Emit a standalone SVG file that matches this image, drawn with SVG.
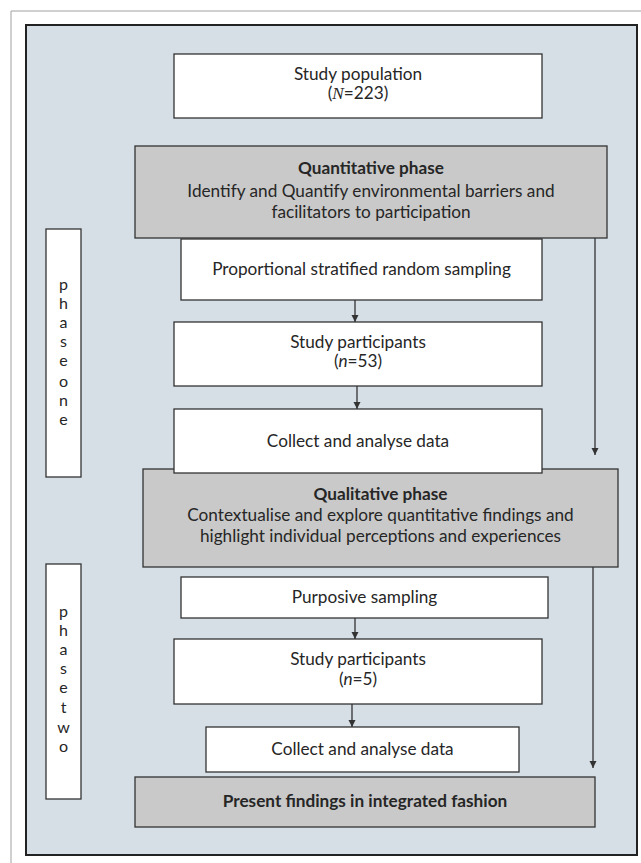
<svg xmlns="http://www.w3.org/2000/svg" width="641" height="863" viewBox="0 0 641 863">
<defs>
<style>
.t{font-family:Lato,"Open Sans","Liberation Sans",sans-serif;font-size:17.2px;fill:#262626;text-anchor:middle}
.b{font-weight:bold}
.w{fill:#ffffff;stroke:#333333;stroke-width:1.3}
.g{fill:#c9c9c9;stroke:#333333;stroke-width:1.3}
.c{stroke:#333333;stroke-width:1.3;fill:none}
.v{font-family:Lato,"Open Sans","Liberation Sans",sans-serif;font-size:16px;fill:#262626;text-anchor:middle}
</style>
<marker id="ah" markerWidth="8" markerHeight="8" refX="7" refY="4" orient="auto" markerUnits="userSpaceOnUse">
<path d="M0,0.5 L7,4 L0,7.5 Z" fill="#333333"/>
</marker>
</defs>
<rect width="641" height="863" fill="#ffffff"/>
<path d="M11,863 V11 H641" fill="none" stroke="#a0a0a0" stroke-width="1"/>
<rect id="frame" x="26" y="25" width="611" height="830" fill="#d6dee6" stroke="#222222" stroke-width="2"/>

<g id="phase-one">
<rect class="w" x="46" y="229" width="35" height="248"/>
<text class="v"><tspan x="63.5" y="290">p</tspan><tspan x="63.5" y="309">h</tspan><tspan x="63.5" y="328">a</tspan><tspan x="63.5" y="347">s</tspan><tspan x="63.5" y="366">e</tspan><tspan x="63.5" y="387">o</tspan><tspan x="63.5" y="406">n</tspan><tspan x="63.5" y="425">e</tspan></text>
</g>
<g id="phase-two">
<rect class="w" x="46" y="564" width="35" height="235"/>
<text class="v"><tspan x="63.5" y="617">p</tspan><tspan x="63.5" y="636">h</tspan><tspan x="63.5" y="655">a</tspan><tspan x="63.5" y="674">s</tspan><tspan x="63.5" y="693">e</tspan><tspan x="63.5" y="713">t</tspan><tspan x="63.5" y="733">w</tspan><tspan x="63.5" y="752">o</tspan></text>
</g>

<g id="study-population">
<rect class="w" x="174" y="54" width="368" height="64"/>
<text class="t" x="358" y="80">Study population</text>
<text class="t" x="358" y="99">(<tspan font-family="'Liberation Serif',serif" font-style="italic">N</tspan>=223)</text>
</g>

<g id="quantitative-phase">
<rect class="g" x="135" y="146" width="472" height="92"/>
<text class="t b" x="371" y="174">Quantitative phase</text>
<text class="t" x="371" y="197">Identify and Quantify environmental barriers and</text>
<text class="t" x="371" y="218">facilitators to participation</text>
</g>

<g id="proportional-sampling">
<rect class="w" x="181" y="239" width="361" height="61"/>
<text class="t" x="361.5" y="275">Proportional stratified random sampling</text>
</g>

<g id="participants-53">
<rect class="w" x="174" y="322" width="368" height="64"/>
<text class="t" x="358" y="348">Study participants</text>
<text class="t" x="358" y="367">(<tspan font-style="italic">n</tspan>=53)</text>
</g>

<g id="qualitative-phase">
<rect class="g" x="143" y="469" width="475" height="98"/>
<text class="t b" x="380.5" y="500">Qualitative phase</text>
<text class="t" x="380.5" y="521">Contextualise and explore quantitative findings and</text>
<text class="t" x="380.5" y="542">highlight individual perceptions and experiences</text>
</g>

<g id="collect-1">
<rect class="w" x="174" y="409" width="368" height="64"/>
<text class="t" x="358" y="447">Collect and analyse data</text>
</g>

<g id="purposive-sampling">
<rect class="w" x="181" y="577" width="367" height="41"/>
<text class="t" x="364.5" y="603">Purposive sampling</text>
</g>

<g id="participants-5">
<rect class="w" x="174" y="639" width="368" height="65"/>
<text class="t" x="358" y="665">Study participants</text>
<text class="t" x="358" y="685">(<tspan font-style="italic">n</tspan>=5)</text>
</g>

<g id="collect-2">
<rect class="w" x="206" y="727" width="313" height="45"/>
<text class="t" x="362.5" y="755">Collect and analyse data</text>
</g>

<g id="present-findings">
<rect class="g" x="135" y="777" width="460" height="50"/>
<text class="t b" x="365" y="807">Present findings in integrated fashion</text>
</g>

<g id="connectors">
<line class="c" x1="595" y1="238" x2="595" y2="455" marker-end="url(#ah)"/>
<line class="c" x1="355" y1="300" x2="355" y2="322" marker-end="url(#ah)"/>
<line class="c" x1="357" y1="386" x2="357" y2="409" marker-end="url(#ah)"/>
<line class="c" x1="593" y1="567" x2="593" y2="768" marker-end="url(#ah)"/>
<line class="c" x1="355" y1="618" x2="355" y2="639" marker-end="url(#ah)"/>
<line class="c" x1="352" y1="704" x2="352" y2="727" marker-end="url(#ah)"/>
</g>
</svg>
